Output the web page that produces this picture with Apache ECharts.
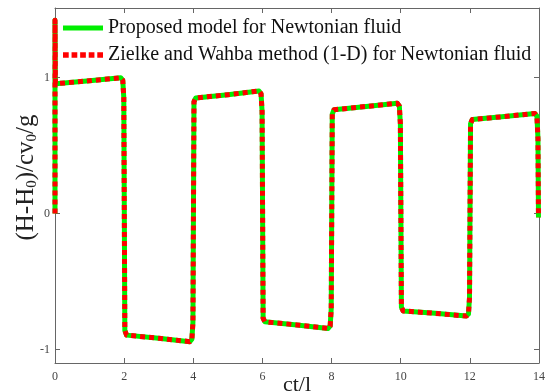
<!DOCTYPE html>
<html><head><meta charset="utf-8">
<script src="https://cdn.jsdelivr.net/npm/echarts@6/dist/echarts.min.js"></script>
<style>html,body{margin:0;padding:0;background:#fff}#c{width:547px;height:392px}</style>
</head><body><div id="c"></div>
<script>
// ct/l values of the response (same trace for both methods)
const timeValues = [0, 0, 0.012, 0.1, 1.0, 1.9, 1.96, 1.99, 2.02, 2.07, 3.0, 3.9, 3.96, 3.99, 4.02, 4.07, 5.0, 5.9, 5.96, 5.99, 6.02, 6.07, 7.0, 7.9, 7.96, 7.99, 8.02, 8.07, 9.0, 9.9, 9.96, 9.99, 10.02, 10.07, 11.0, 11.9, 11.96, 11.99, 12.02, 12.07, 13.0, 13.88, 13.94, 13.97, 13.985];
const proposedHead = [0, 1.42, 0.955, 0.955, 0.975, 0.997, 0.98, 0.85, -0.86, -0.895, -0.918, -0.943, -0.925, -0.8, 0.82, 0.848, 0.873, 0.9, 0.88, 0.75, -0.77, -0.797, -0.82, -0.846, -0.828, -0.7, 0.73, 0.762, 0.786, 0.81, 0.79, 0.66, -0.69, -0.717, -0.735, -0.755, -0.74, -0.62, 0.66, 0.69, 0.712, 0.735, 0.715, 0.55, -0.03];
const zielkeHead = proposedHead.slice();
const xTicks = [0, 2, 4, 6, 8, 10, 12, 14];
const yTicks = [-1, 0, 1];
const seriesNames = ['Proposed model for Newtonian fluid', 'Zielke and Wahba method (1-D) for Newtonian fluid'];

const pairs = (xs, ys) => xs.map((x, i) => [x, ys[i]]);
const serif = '"Liberation Serif", "Times New Roman", serif';
const axisCol = '#666';
const solidIcon = 'path://M0,0h42v5h-42z';
const dotIcon = 'path://M0,0h6v6h-6z M9,0h6v6h-6z M18,0h6v6h-6z M27,0h6v6h-6z M36,0h6v6h-6z';

const chart = echarts.init(document.getElementById('c'));
chart.setOption({
  animation: false,
  backgroundColor: '#fff',
  grid: { left: 55, right: 8, top: 8, bottom: 29, containLabel: false, outerBoundsMode: 'none' },
  legend: {
    orient: 'vertical', left: 63, top: 18, padding: 0, itemGap: 7,
    itemWidth: 40, itemHeight: 6,
    textStyle: { fontFamily: serif, fontSize: 20, color: '#111' },
    data: [
      { name: seriesNames[0], icon: solidIcon, itemStyle: { color: '#00ee00' } },
      { name: seriesNames[1], icon: dotIcon, itemStyle: { color: '#ff0000' } }
    ]
  },
  xAxis: [{
    type: 'value', min: 0, max: 14, interval: 2,
    axisLine: { onZero: false, lineStyle: { color: axisCol, width: 1 } },
    axisTick: { inside: true, length: 5, lineStyle: { color: axisCol } },
    axisLabel: { fontFamily: serif, fontSize: 12, color: '#444', margin: 8 },
    splitLine: { show: false },
    name: 'ct/l', nameLocation: 'middle', nameGap: 11, nameMoveOverlap: false,
    nameTextStyle: { fontFamily: serif, fontSize: 22, color: '#222' }
  }, {
    type: 'value', position: 'top', min: 0, max: 14, interval: 2,
    axisLine: { show: true, onZero: false, lineStyle: { color: axisCol, width: 1 } },
    axisTick: { inside: true, length: 5, lineStyle: { color: axisCol } },
    axisLabel: { show: false }, splitLine: { show: false }
  }],
  yAxis: [{
    type: 'value', min: -1.1, max: 1.51,
    axisLine: { show: true, onZero: false, lineStyle: { color: axisCol, width: 1 } },
    axisTick: { show: true, inside: true, length: 5, customValues: yTicks, lineStyle: { color: axisCol } },
    axisLabel: { fontFamily: serif, fontSize: 12, color: '#444', margin: 5, customValues: yTicks },
    splitLine: { show: false },
    name: '{a|(H-H}{s|0}{a|)/cv}{s|0}{a|/g}', nameLocation: 'middle', nameGap: 15, nameMoveOverlap: false,
    nameTextStyle: {
      padding: [0, 0, 0, 16],
      rich: {
        a: { fontFamily: serif, fontSize: 25, color: '#222' },
        s: { fontFamily: serif, fontSize: 15, color: '#222', verticalAlign: 'bottom', padding: [12, 0, 0, 0] }
      }
    }
  }, {
    type: 'value', position: 'right', min: -1.1, max: 1.51,
    axisLine: { show: true, onZero: false, lineStyle: { color: axisCol, width: 1 } },
    axisTick: { show: true, inside: true, length: 5, customValues: yTicks, lineStyle: { color: axisCol } },
    axisLabel: { show: false }, splitLine: { show: false }
  }],
  series: [{
    name: seriesNames[0], type: 'line', showSymbol: false, symbol: 'none',
    data: pairs(timeValues, proposedHead),
    lineStyle: { color: '#00ee00', width: 5, cap: 'butt', join: 'round' },
    itemStyle: { color: '#00ee00' }
  }, {
    name: seriesNames[1], type: 'line', showSymbol: false, symbol: 'none',
    data: pairs(timeValues, zielkeHead),
    lineStyle: { color: '#ff0000', width: 5, type: [5, 4], cap: 'butt', join: 'round' },
    itemStyle: { color: '#ff0000' }
  }]
});
</script></body></html>
